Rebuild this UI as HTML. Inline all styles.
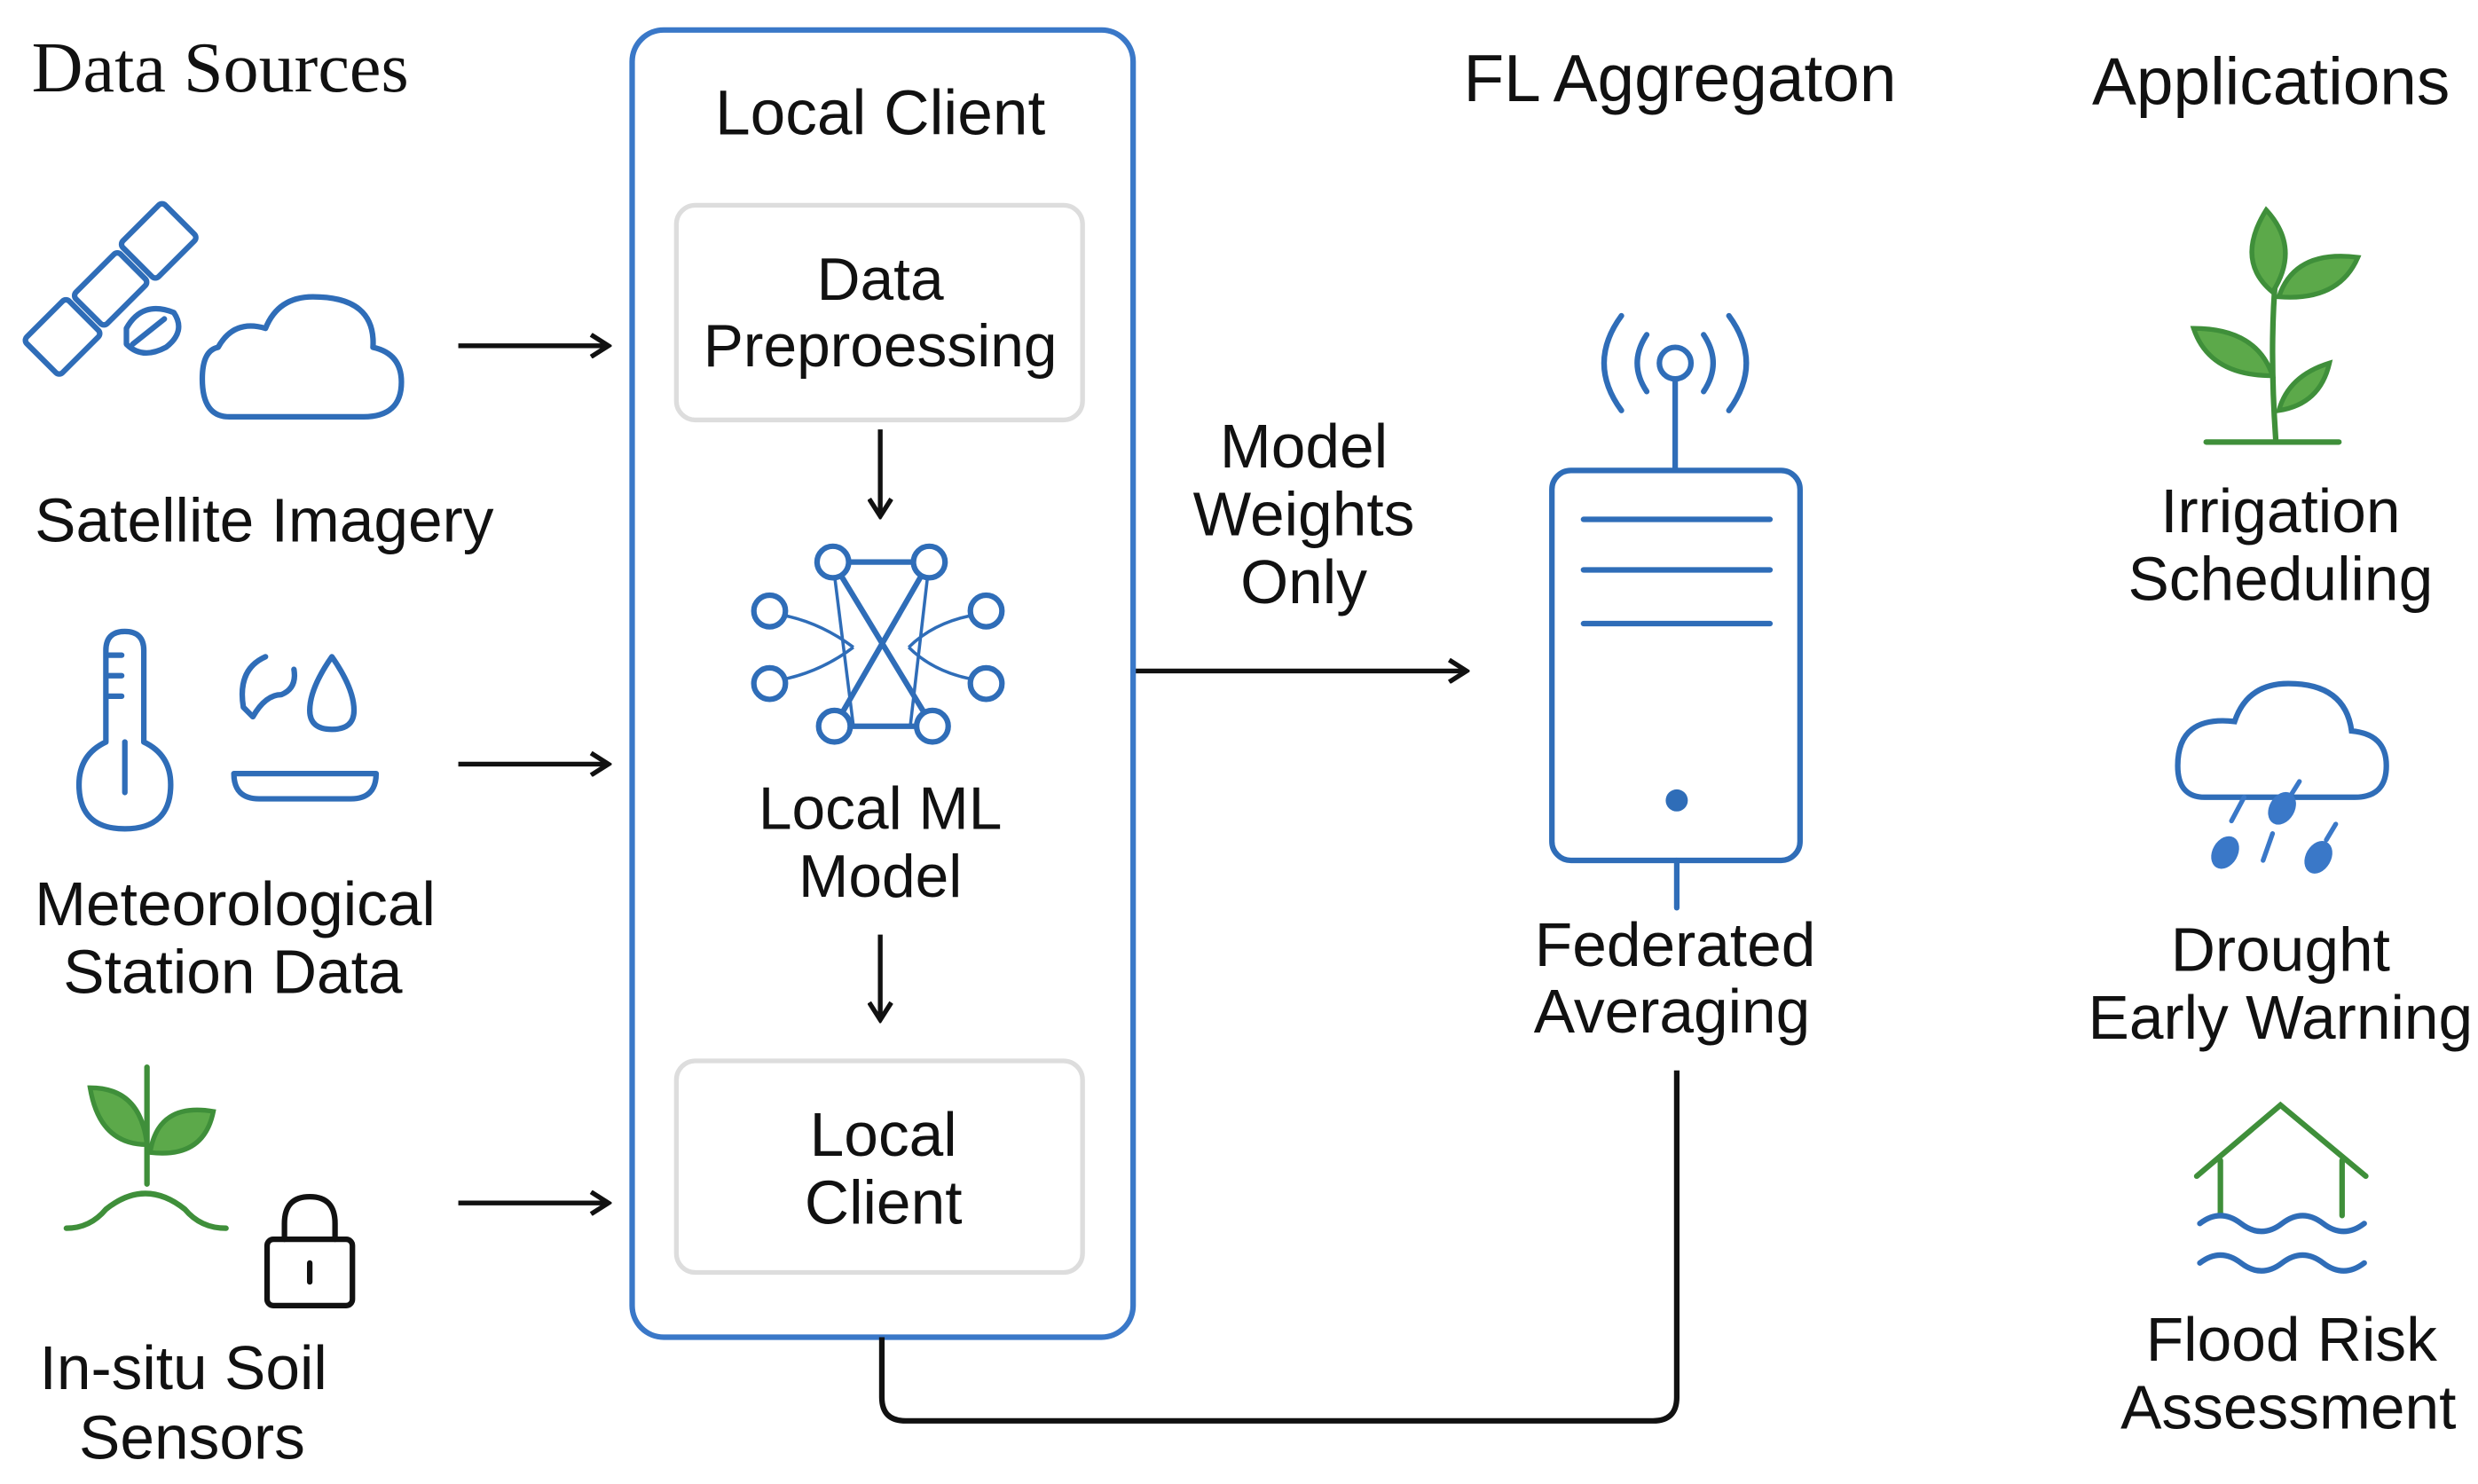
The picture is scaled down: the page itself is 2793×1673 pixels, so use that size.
<!DOCTYPE html>
<html><head><meta charset="utf-8"><style>
html,body{margin:0;padding:0;background:#fff;}
svg{display:block;}
text{font-family:"Liberation Sans",sans-serif;fill:#111;}
</style></head><body>
<svg width="2793" height="1673" viewBox="0 0 1568 940" preserveAspectRatio="none" xmlns="http://www.w3.org/2000/svg">
<rect width="1568" height="940" fill="#fff"/>
<defs>
<marker id="ah" markerWidth="16" markerHeight="16" refX="13" refY="8" orient="auto" markerUnits="userSpaceOnUse"><path d="M3,1 L14,8 L3,15" fill="none" stroke="#111" stroke-width="3"/></marker>
</defs>
<!-- Titles -->
<text x="20" y="58" style="font-family:'Liberation Serif',serif" font-size="45">Data Sources</text>
<text x="1063" y="64" font-size="42" text-anchor="middle">FL Aggregaton</text>
<text x="1437" y="66" font-size="42" text-anchor="middle">Applications</text>

<!-- Left icons -->
<g fill="none" stroke="#2f6db8" stroke-width="3.5" stroke-linejoin="round" stroke-linecap="round">
  <!-- satellite -->
  <g transform="translate(70,183) rotate(45)">
    <rect x="-14" y="-20" width="28" height="40" rx="3"/>
    <rect x="-16" y="-62" width="32" height="38" rx="3"/>
    <rect x="-16" y="24" width="32" height="38" rx="3"/>
  </g>
  <path d="M80,208 q10,-18 30,-10 q8,12 -5,22 q-15,8 -25,-2 z M84,218 l20,-16"/>
  <!-- cloud -->
  <path d="M145,264 h85 q24,0 24,-22 q0,-18 -18,-22 q2,-32 -38,-32 q-22,0 -30,20 q-20,-6 -30,12 q-10,2 -10,20 q0,24 17,24 z"/>
  <!-- thermometer -->
  <path d="M67,470 V412 q0,-12 12,-12 q12,0 12,12 V470 q17,8 17,27 q0,28 -29,28 q-29,0 -29,-28 q0,-19 17,-27 z"/>
  <path d="M79,470 v32 M69,415 h8 M69,428 h8 M69,441 h8"/>
  <!-- cup/drops -->
  <path d="M148,490 h90 q0,16 -16,16 h-58 q-16,0 -16,-16 z"/>
  <path d="M210,416 q-14,20 -14,34 q0,12 14,12 q14,0 14,-12 q0,-14 -14,-34 z"/>
  <path d="M168,416 q-18,8 -14,32 l6,6 q8,-14 18,-14 q10,-4 8,-16"/>
  <!-- lock -->
  <g stroke="#111">
    <rect x="169" y="785" width="54" height="42" rx="4"/>
    <path d="M180,785 v-10 q0,-17 16,-17 q16,0 16,17 v10 M196,800 v12"/>
  </g>
</g>
<!-- left plant -->
<g stroke="#3f8f3a" stroke-width="3.5" fill="none" stroke-linecap="round">
  <path d="M42,778 q15,0 25,-12 q25,-20 50,0 q10,12 26,12"/>
  <path d="M93,750 V676"/>
</g>
<g fill="#5ca94a" stroke="#3f8f3a" stroke-width="3">
  <path d="M93,725 q-30,0 -36,-36 q32,0 36,36 z"/>
  <path d="M95,730 q5,-32 40,-26 q-6,30 -40,26 z"/>
</g>

<text x="22" y="343" font-size="39">Satellite Imagery</text>
<text x="22" y="586" font-size="39">Meteorological</text>
<text x="40" y="629" font-size="39">Station Data</text>
<text x="25" y="880" font-size="39">In-situ Soil</text>
<text x="50" y="924" font-size="39">Sensors</text>

<!-- arrows -->
<g stroke="#111" stroke-width="3" fill="none" marker-end="url(#ah)">
  <line x1="290" y1="219" x2="384" y2="219"/>
  <line x1="290" y1="484" x2="384" y2="484"/>
  <line x1="290" y1="762" x2="384" y2="762"/>
  <line x1="717" y1="425" x2="927" y2="425"/>
  <line x1="557" y1="272" x2="557" y2="326"/>
  <line x1="557" y1="592" x2="557" y2="645"/>
</g>

<!-- Local Client box -->
<rect x="400" y="19" width="317" height="828" rx="20" fill="none" stroke="#3a78c8" stroke-width="3.5"/>
<text x="557" y="85" font-size="40" text-anchor="middle">Local Client</text>
<rect x="428" y="130" width="257" height="136" rx="12" fill="none" stroke="#ddd" stroke-width="3"/>
<text x="557" y="190" font-size="38" text-anchor="middle">Data</text>
<text x="557" y="232" font-size="38" text-anchor="middle">Preproessing</text>
<!-- neural net -->
<g stroke="#2f6db8" fill="none">
  <g stroke-width="2">
    <path d="M527,356 L540,460 M588,356 L576,460"/>
    <path d="M497,390 Q520,395 540,410 M497,430 Q520,425 540,410 M614,390 Q590,395 575,410 M614,430 Q590,425 575,410"/>
  </g>
  <g stroke-width="3.5">
    <path d="M527,356 L590,460 M588,356 L528,460"/>
    <line x1="537" y1="356" x2="578" y2="356"/>
    <line x1="538" y1="460" x2="580" y2="460"/>
  </g>
  <g stroke-width="3.5" fill="#fff">
    <circle cx="527" cy="356" r="10"/><circle cx="588" cy="356" r="10"/>
    <circle cx="487" cy="387" r="10"/><circle cx="487" cy="433" r="10"/>
    <circle cx="624" cy="387" r="10"/><circle cx="624" cy="433" r="10"/>
    <circle cx="528" cy="460" r="10"/><circle cx="590" cy="460" r="10"/>
  </g>
</g>
<text x="557" y="525" font-size="38" text-anchor="middle">Local ML</text>
<text x="557" y="568" font-size="38" text-anchor="middle">Model</text>
<rect x="428" y="672" width="257" height="134" rx="12" fill="none" stroke="#ddd" stroke-width="3"/>
<text x="559" y="732" font-size="39" text-anchor="middle">Local</text>
<text x="559" y="775" font-size="39" text-anchor="middle">Client</text>

<text x="825" y="296" font-size="39" text-anchor="middle">Model</text>
<text x="825" y="339" font-size="39" text-anchor="middle">Weights</text>
<text x="825" y="382" font-size="39" text-anchor="middle">Only</text>

<!-- Server -->
<g stroke="#2f6db8" stroke-width="3.5" fill="none" stroke-linecap="round">
  <rect x="982" y="298" width="157" height="247" rx="12"/>
  <line x1="1002" y1="329" x2="1120" y2="329"/>
  <line x1="1002" y1="361" x2="1120" y2="361"/>
  <line x1="1002" y1="395" x2="1120" y2="395"/>
  <line x1="1060" y1="240" x2="1060" y2="298"/>
  <circle cx="1060" cy="230" r="10"/>
  <path d="M1042,212 q-12,18 0,36 M1078,212 q12,18 0,36 M1026,200 q-22,30 0,60 M1094,200 q22,30 0,60"/>
  <line x1="1061" y1="545" x2="1061" y2="575"/>
</g>
<circle cx="1061" cy="507" r="7" fill="#2f6db8"/>
<text x="1060" y="612" font-size="39" text-anchor="middle">Federated</text>
<text x="1058" y="654" font-size="39" text-anchor="middle">Averaging</text>

<!-- feedback connector -->
<path d="M558,847 V885 Q558,900 573,900 H1046 Q1061,900 1061,885 V678" fill="none" stroke="#111" stroke-width="3.5"/>

<!-- Right icons -->
<g stroke="#3f8f3a" stroke-width="3.5" fill="none" stroke-linecap="round">
  <line x1="1396" y1="280" x2="1480" y2="280"/>
  <path d="M1440,278 Q1436,220 1440,175"/>
</g>
<g fill="#5ca94a" stroke="#3f8f3a" stroke-width="3">
  <path d="M1438,185 q-24,-20 -4,-52 q22,24 4,52 z"/>
  <path d="M1442,188 q10,-30 50,-25 q-12,28 -50,25 z"/>
  <path d="M1438,238 q-10,-30 -50,-30 q10,30 50,30 z"/>
  <path d="M1442,260 q6,-22 32,-30 q-6,26 -32,30 z"/>
</g>
<g stroke="#2f6db8" stroke-width="3.5" fill="none">
  <path d="M1395,505 h95 q20,0 20,-20 q0,-20 -22,-22 q-4,-30 -40,-30 q-26,0 -34,24 q-36,-4 -36,28 q0,20 17,20 z"/>
</g>
<g fill="#3a78c8">
  <ellipse cx="1408" cy="540" rx="8" ry="11" transform="rotate(30 1408 540)"/>
  <ellipse cx="1444" cy="512" rx="8" ry="11" transform="rotate(30 1444 512)"/>
  <ellipse cx="1467" cy="543" rx="8" ry="11" transform="rotate(30 1467 543)"/>
</g>
<g stroke="#3a78c8" stroke-width="3" stroke-linecap="round">
  <line x1="1420" y1="505" x2="1412" y2="520"/><line x1="1455" y1="495" x2="1450" y2="503"/>
  <line x1="1438" y1="528" x2="1432" y2="545"/><line x1="1478" y1="522" x2="1472" y2="532"/>
</g>
<g fill="none" stroke-width="3.5" stroke-linecap="round">
  <path d="M1390,745 L1443,700 L1497,745 M1405,735 V770 M1482,735 V770" stroke="#3f8f3a"/>
  <path d="M1392,775 q13,-10 26,0 q13,10 26,0 q13,-10 26,0 q13,10 26,0 M1392,800 q13,-10 26,0 q13,10 26,0 q13,-10 26,0 q13,10 26,0" stroke="#2f6db8"/>
</g>
<text x="1443" y="337" font-size="39" text-anchor="middle">Irrigation</text>
<text x="1443" y="380" font-size="39" text-anchor="middle">Scheduling</text>
<text x="1443" y="615" font-size="39" text-anchor="middle">Drought</text>
<text x="1443" y="658" font-size="39" text-anchor="middle">Early Warning</text>
<text x="1450" y="862" font-size="39" text-anchor="middle">Flood Risk</text>
<text x="1448" y="905" font-size="39" text-anchor="middle">Assessment</text>
</svg>
</body></html>
